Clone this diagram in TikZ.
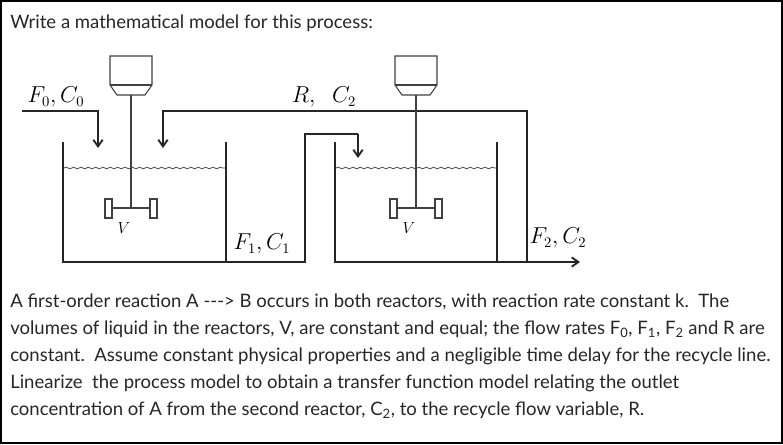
\documentclass[tikz,border=0pt]{standalone}
\usepackage{fontspec}
\setmainfont{Lato}
\usetikzlibrary{arrows.meta,decorations.pathmorphing}
\begin{document}
\begin{tikzpicture}[x=0.75pt,y=-0.75pt,
  pipe/.style={line width=1.4pt,black!85},
  flow/.style={pipe,-{Straight Barb[length=5pt,width=7pt]}},
  thin/.style={line width=0.8pt,black!75},
  water/.style={line width=0.6pt,black!70,decorate,decoration={snake,amplitude=0.6pt,segment length=5.5pt}},
  txt/.style={anchor=west,inner sep=0pt,font=\fontsize{13.9pt}{16pt}\selectfont,text=black!85},
  lab/.style={inner sep=0pt,font=\fontsize{16pt}{18pt}\selectfont\rmfamily}]
\useasboundingbox (0,0) rectangle (783,444);
\fill[white] (0,0) rectangle (783,444);
\draw[line width=2.2pt] (1,1) rectangle (782,443);
\node[txt] (title) at (10,23) {Write a mathematical model for this process:};
% tank 1
\draw[pipe] (63,142) -- (63,262) -- (305,262) -- (305,134) -- (358,134);
\draw[pipe] (226,142) -- (226,262);
\coordinate (o1) at (358,134); \coordinate (o1e) at (358,158);
\draw[flow] (o1) -- (o1e);
\draw[water] (64,168) -- (225,168);
% feed
\coordinate (f0) at (22,111); \coordinate (f0b) at (98,111); \coordinate (f0e) at (98,148);
\draw[flow] (f0) -- (f0b) -- (f0e);
% recycle
\coordinate (r0) at (527,262); \coordinate (r1) at (527,111); \coordinate (r2) at (163,111); \coordinate (r3) at (163,148);
\draw[flow] (r0) -- (r1) -- (r2) -- (r3);
% tank 2
\draw[pipe] (335,142) -- (335,262) -- (497,262) -- (497,142);
\coordinate (t2) at (497,262); \coordinate (out) at (580,262);
\draw[flow] (t2) -- (out);
\draw[water] (336,168) -- (496,168);
% mixers
\foreach \c/\n in {131/m1,416/m2}{
  \draw[thin,fill=white] (\c-21,56) -- (\c+21,56) -- (\c+21,85) -- (\c+14,95) -- (\c-14,95) -- (\c-21,85) -- cycle;
  \draw[thin] (\c-21,85) -- (\c+21,85);
  \draw[thin] (\c,95) -- (\c,208);
  \draw[thin] (\c-20,208) -- (\c+20,208);
  \draw[thin,fill=white] (\c-26,199) rectangle (\c-19,218);
  \draw[thin,fill=white] (\c+19,199) rectangle (\c+26,218);
  \node[lab,font=\fontsize{12.5pt}{14pt}\selectfont\rmfamily] (\n) at (\c-7,228) {$V$};
}
\node[lab] (l0) at (56,97) {$F_0, C_0$};
\node[lab] (lr) at (324,97) {$R,\;\; C_2$};
\node[lab] (l1) at (262,244) {$F_1, C_1$};
\node[lab] (l2) at (558,238) {$F_2, C_2$};
% text
\node[txt] (p1) at (10,302) {A first-order reaction A -{}-{}-> B occurs in both reactors, with reaction rate constant k.\ \ The};
\node[txt] (p2) at (10,329) {volumes of liquid in the reactors, V, are constant and equal; the flow rates F\textsubscript{0}, F\textsubscript{1}, F\textsubscript{2} and R are};
\node[txt] (p3) at (10,356) {constant.\ \ Assume constant physical properties and a negligible time delay for the recycle line.};
\node[txt] (p4) at (10,383) {Linearize\ \ the process model to obtain a transfer function model relating the outlet};
\node[txt] (p5) at (10,410) {concentration of A from the second reactor, C\textsubscript{2}, to the recycle flow variable, R.};
\end{tikzpicture}
\end{document}
